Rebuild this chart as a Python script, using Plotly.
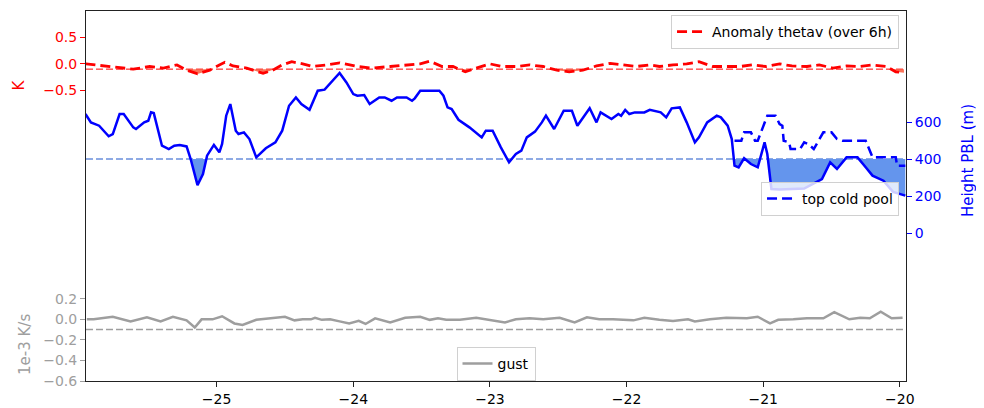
import plotly.graph_objects as go

# x axis: days relative to the event
X_RANGE = [-25.956, -19.955]
X_TICKS = [-25, -24, -23, -22, -21, -20]

# anomaly of thetav over 6 h (K), red axis
ANOM_X = [-25.96, -25.85, -25.76, -25.61, -25.49, -25.39, -25.29, -25.22, -25.14, -25.05,
          -24.98, -24.94, -24.88, -24.78, -24.66, -24.59, -24.52, -24.45, -24.37, -24.30,
          -24.19, -24.10, -23.97, -23.86, -23.73, -23.61, -23.51, -23.44, -23.35, -23.27,
          -23.18, -23.10, -23.00, -22.91, -22.80, -22.71, -22.61, -22.51, -22.42, -22.32,
          -22.22, -22.12, -22.03, -21.93, -21.83, -21.76, -21.66, -21.56, -21.47, -21.37,
          -21.27, -21.17, -21.08, -20.98, -20.88, -20.79, -20.68, -20.59, -20.49, -20.39,
          -20.30, -20.20, -20.10, -20.03, -19.97]
ANOM_K = [0.00, -0.03, -0.05, -0.10, -0.05, -0.08, -0.02, -0.12, -0.19, -0.12,
          -0.02, 0.03, -0.04, -0.08, -0.18, -0.12, -0.02, 0.04, 0.00, -0.05,
          -0.02, 0.02, -0.05, -0.08, -0.05, -0.02, 0.00, 0.05, -0.05, -0.05,
          -0.15, -0.08, 0.00, -0.05, -0.05, -0.02, -0.05, -0.12, -0.15, -0.12,
          -0.04, 0.01, -0.02, -0.05, -0.02, -0.05, -0.02, 0.00, 0.04, -0.05,
          -0.05, -0.05, -0.02, -0.05, 0.00, -0.04, -0.05, -0.02, -0.08, -0.04,
          -0.05, -0.02, -0.05, -0.15, -0.17]
ANOM_THR = -0.1

# height of the PBL (m), blue axis
PBL_X = [-25.96, -25.92, -25.86, -25.79, -25.76, -25.71, -25.68, -25.61, -25.59, -25.53,
         -25.50, -25.48, -25.46, -25.40, -25.35, -25.31, -25.27, -25.22, -25.19, -25.14,
         -25.10, -25.07, -25.02, -24.98, -24.96, -24.93, -24.90, -24.86, -24.84, -24.80,
         -24.76, -24.71, -24.64, -24.57, -24.52, -24.47, -24.42, -24.38, -24.32, -24.26,
         -24.21, -24.16, -24.10, -24.05, -24.00, -23.97, -23.92, -23.88, -23.81, -23.77,
         -23.72, -23.68, -23.61, -23.57, -23.55, -23.51, -23.37, -23.34, -23.31, -23.28,
         -23.23, -23.15, -23.06, -23.03, -22.98, -22.92, -22.86, -22.81, -22.77, -22.73,
         -22.67, -22.62, -22.59, -22.53, -22.46, -22.40, -22.36, -22.27, -22.22, -22.19,
         -22.11, -22.06, -22.04, -22.01, -21.98, -21.94, -21.87, -21.83, -21.79, -21.75,
         -21.71, -21.67, -21.61, -21.56, -21.50, -21.47, -21.41, -21.34, -21.31, -21.26,
         -21.23, -21.21, -21.18, -21.14, -21.09, -21.04, -20.99, -20.97, -20.94, -20.88,
         -20.70, -20.57, -20.51, -20.46, -20.39, -20.31, -20.25, -20.20, -20.12, -20.05,
         -19.96]
PBL_M = [643, 598, 580, 523, 535, 643, 643, 571, 562, 598,
         607, 652, 648, 472, 454, 472, 476, 468, 400, 259,
         319, 418, 476, 436, 481, 634, 697, 553, 535, 544,
         508, 409, 458, 490, 553, 688, 733, 697, 666, 769,
         775, 814, 865, 814, 751, 742, 746, 697, 733, 733,
         715, 733, 733, 715, 728, 769, 769, 742, 679, 670,
         612, 571, 517, 553, 553, 463, 382, 427, 445, 517,
         548, 598, 634, 562, 661, 661, 580, 674, 598, 652,
         616, 643, 634, 665, 643, 652, 652, 666, 661, 652,
         625, 674, 679, 598, 490, 517, 598, 634, 625, 580,
         508, 364, 355, 404, 373, 355, 490, 427, 238, 235,
         240, 292, 382, 346, 409, 409, 355, 310, 283, 222,
         202]
PBL_THR = 400

# top of the cold pool (m), blue axis
COLD_X = [-21.21, -21.16, -21.14, -21.09, -21.06, -21.04, -20.97, -20.91, -20.88, -20.86,
          -20.85, -20.81, -20.80, -20.73, -20.70, -20.67, -20.63, -20.61, -20.56, -20.50,
          -20.46, -20.42, -20.25, -20.20, -20.03, -20.02, -19.96]
COLD_M = [499, 499, 544, 544, 499, 499, 634, 634, 589, 580,
          499, 490, 454, 454, 490, 481, 454, 481, 544, 544,
          508, 499, 499, 409, 409, 364, 364]

# gust term (1e-3 K/s), grey axis
GUST_X = [-25.95, -25.90, -25.76, -25.63, -25.51, -25.41, -25.32, -25.22, -25.16, -25.11,
          -25.03, -24.96, -24.87, -24.81, -24.71, -24.61, -24.50, -24.43, -24.37, -24.31,
          -24.28, -24.23, -24.17, -24.10, -24.03, -23.96, -23.91, -23.84, -23.73, -23.62,
          -23.51, -23.44, -23.38, -23.32, -23.22, -23.10, -23.00, -22.89, -22.81, -22.71,
          -22.61, -22.49, -22.38, -22.29, -22.20, -22.10, -21.95, -21.87, -21.76, -21.66,
          -21.55, -21.50, -21.39, -21.27, -21.12, -21.04, -20.95, -20.89, -20.78, -20.68,
          -20.56, -20.48, -20.37, -20.29, -20.22, -20.14, -20.06, -20.00, -19.98]
GUST_V = [0.00, 0.00, 0.025, -0.02, 0.02, -0.02, 0.025, -0.01, -0.08, 0.00,
          0.00, 0.03, -0.04, -0.055, -0.005, 0.01, 0.025, -0.01, 0.00, 0.00,
          0.015, -0.005, 0.00, -0.02, -0.04, -0.015, -0.045, 0.01, -0.03, 0.015,
          0.025, -0.005, 0.01, -0.005, -0.005, 0.015, -0.005, -0.03, 0.00, 0.01,
          0.00, 0.015, -0.03, 0.02, 0.00, 0.00, -0.01, 0.015, -0.005, -0.015,
          0.00, -0.02, 0.00, 0.015, 0.01, 0.025, -0.04, -0.005, 0.00, 0.01,
          0.01, 0.07, 0.00, 0.015, 0.01, 0.075, 0.01, 0.01, 0.015]
GUST_THR = -0.1

RED = "#ff0000"
BLUE = "#0000ff"
GREY = "#9e9e9e"
FONT = "DejaVu Sans"


def clip_below(x, y, thr):
    """Curve capped at thr, with crossing points added so the fill edge is exact."""
    xs, ys = [x[0]], [min(y[0], thr)]
    for x0, y0, x1, y1 in zip(x[:-1], y[:-1], x[1:], y[1:]):
        if (y0 - thr) * (y1 - thr) < 0:
            xs.append(x0 + (thr - y0) * (x1 - x0) / (y1 - y0))
            ys.append(thr)
        xs.append(x1)
        ys.append(min(y1, thr))
    return xs, ys


def add_fill(fig, x, y, thr, yaxis, color):
    xs, ys = clip_below(x, y, thr)
    fig.add_trace(go.Scatter(x=xs, y=[thr] * len(xs), mode="lines", line=dict(width=0),
                             yaxis=yaxis, showlegend=False, hoverinfo="skip"))
    fig.add_trace(go.Scatter(x=xs, y=ys, mode="lines", line=dict(width=0), fill="tonexty",
                             fillcolor=color, yaxis=yaxis, showlegend=False, hoverinfo="skip"))


fig = go.Figure()

# red: thetav anomaly
add_fill(fig, ANOM_X, ANOM_K, ANOM_THR, "y", "rgba(250,90,60,0.85)")
fig.add_trace(go.Scatter(x=ANOM_X, y=ANOM_K, mode="lines", name="Anomaly thetav (over 6h)",
                         line=dict(color=RED, width=2.8, dash="10px,5px"), yaxis="y",
                         legend="legend"))

# blue: PBL and cold pool
add_fill(fig, PBL_X, PBL_M, PBL_THR, "y2", "#6495ed")
fig.add_trace(go.Scatter(x=PBL_X, y=PBL_M, mode="lines", line=dict(color=BLUE, width=2.5),
                         yaxis="y2", showlegend=False))
fig.add_trace(go.Scatter(x=COLD_X, y=COLD_M, mode="lines", name="top cold pool",
                         line=dict(color=BLUE, width=2.5, dash="10px,5px"), yaxis="y2",
                         legend="legend2"))

# grey: gust
fig.add_trace(go.Scatter(x=GUST_X, y=GUST_V, mode="lines", name="gust",
                         line=dict(color=GREY, width=2.5), yaxis="y3", legend="legend3"))

# threshold lines
for yref, thr, col, w in [("y", ANOM_THR, RED, 1), ("y2", PBL_THR, "#6a8fdc", 1.5),
                          ("y3", GUST_THR, GREY, 1.5)]:
    fig.add_shape(type="line", xref="paper", x0=0, x1=1, yref=yref, y0=thr, y1=thr,
                  line=dict(color=col, width=w, dash="7px,3px"), layer="below")

axis_common = dict(showgrid=False, zeroline=False, ticks="outside", ticklen=5,
                   automargin=False)


def tickfont(col):
    return dict(family=FONT, size=14, color=col)


legend_box = dict(bgcolor="rgba(255,255,255,0.8)", bordercolor="#d0d0d0", borderwidth=1,
                  font=dict(family=FONT, size=14))

# the page body adds an 8 px margin, so the figure is 8 px smaller and shifted
fig.update_layout(
    width=976, height=400,
    margin=dict(l=78, r=78, t=3, b=27),
    paper_bgcolor="white", plot_bgcolor="white",
    font=dict(family=FONT, size=14, color="black"),
    xaxis=dict(range=X_RANGE, tickvals=X_TICKS, showline=True, mirror=True,
               linecolor="#222", linewidth=1, tickcolor="#222", tickfont=tickfont("black"),
               **axis_common),
    yaxis=dict(range=[-6, 1], tickvals=[-0.5, 0, 0.5], tickformat=".1f",
               showline=True, mirror=True, linecolor="#222", linewidth=1,
               tickcolor=RED, tickfont=tickfont(RED), **axis_common),
    yaxis2=dict(range=[-800, 1200], tickvals=[0, 200, 400, 600], overlaying="y", side="right",
                anchor="x", tickcolor=BLUE, tickfont=tickfont(BLUE), **axis_common),
    yaxis3=dict(range=[-0.6, 3.0], tickvals=[-0.6, -0.4, -0.2, 0, 0.2], tickformat=".1f",
                overlaying="y", side="left", anchor="x", tickcolor=GREY,
                tickfont=tickfont(GREY), **axis_common),
    legend=dict(x=0.9915, y=0.989, xanchor="right", yanchor="top", **legend_box),
    legend2=dict(x=0.9915, y=0.538, xanchor="right", yanchor="top", **legend_box),
    legend3=dict(x=0.5, y=0.092, xanchor="center", yanchor="top", **legend_box),
)

# axis labels placed where the original sets them
for text, x, y, col in [("K", -0.0823, 0.80, RED),
                        ("1e-3 K/s", -0.0744, 0.10, GREY),
                        ("Height PBL (m)", 1.0756, 0.597, BLUE)]:
    fig.add_annotation(text=text, xref="paper", yref="paper", x=x, y=y, showarrow=False,
                       textangle=-90, font=dict(family=FONT, size=15, color=col),
                       xanchor="center", yanchor="middle")

fig.write_html("out.html")
